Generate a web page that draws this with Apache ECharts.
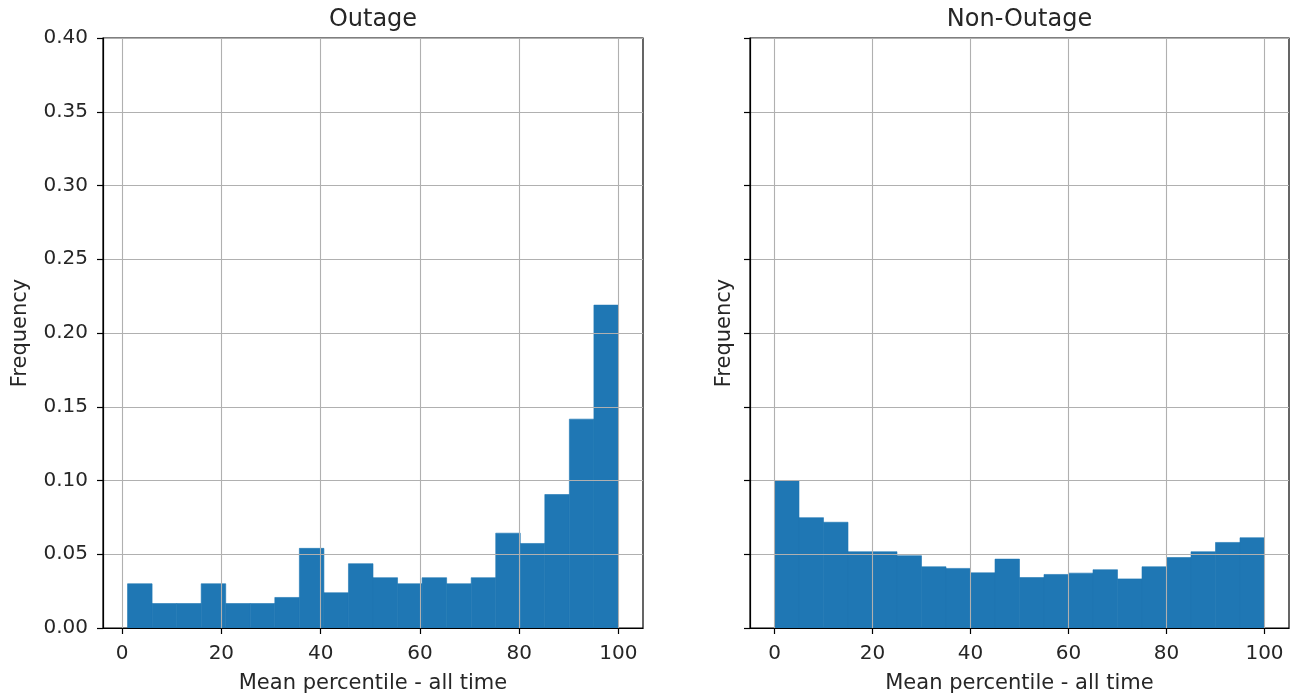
<!DOCTYPE html>
<html>
<head>
<meta charset="utf-8">
<script src="https://cdn.jsdelivr.net/npm/echarts@6/dist/echarts.min.js"></script>
<style>
html,body{margin:0;padding:0;background:#fff;}
#chart{width:1290px;height:695px;}
</style>
</head>
<body>
<div id="chart"></div>
<script>
// Outage histogram (relative frequency per bin)
const outageEdges = [1.1, 6.045, 10.99, 15.935, 20.88, 25.825, 30.77, 35.715, 40.66, 45.605, 50.55, 55.495, 60.44, 65.385, 70.33, 75.275, 80.22, 85.165, 90.11, 95.055, 100];
const outageFreq = [0.030, 0.0166, 0.0166, 0.030, 0.0166, 0.0166, 0.0207, 0.054, 0.0239, 0.0436, 0.0341, 0.030, 0.0341, 0.030, 0.0341, 0.0643, 0.0573, 0.0905, 0.1416, 0.2189];

// Non-outage histogram
const nonOutageEdges = [0, 5, 10, 15, 20, 25, 30, 35, 40, 45, 50, 55, 60, 65, 70, 75, 80, 85, 90, 95, 100];
const nonOutageFreq = [0.100, 0.0748, 0.0717, 0.0517, 0.0517, 0.049, 0.0415, 0.0404, 0.0374, 0.0467, 0.0342, 0.0363, 0.0372, 0.0395, 0.0333, 0.0415, 0.0478, 0.0517, 0.058, 0.0612];

const xTicks = [0, 20, 40, 60, 80, 100];
const titles = ['Outage', 'Non-Outage'];
const xLabel = 'Mean percentile - all time';
const yLabel = 'Frequency';

function toBins(edges, freq) {
  return freq.map((f, i) => [edges[i], edges[i + 1], f]);
}

const FONT = 'DejaVu Sans';
const TXT = '#262626';

function renderBar(params, api) {
  const p0 = api.coord([api.value(0), api.value(2)]);
  const p1 = api.coord([api.value(1), 0]);
  return {
    type: 'rect',
    shape: { x: p0[0], y: p0[1], width: p1[0] - p0[0], height: p1[1] - p0[1] },
    style: { fill: '#1f77b4', stroke: '#1f77b4', lineWidth: 0.6 }
  };
}

function xAxisCfg(idx, min, max) {
  return {
    type: 'value', gridIndex: idx, min: min, max: max, z: 5,
    name: xLabel, nameLocation: 'middle', nameGap: 45,
    nameTextStyle: { fontFamily: FONT, fontSize: 21, color: TXT },
    axisLine: { show: true, onZero: false, lineStyle: { color: '#000', width: 1.2 } },
    axisTick: { show: true, length: 6, customValues: xTicks, lineStyle: { color: '#000', width: 1.2 } },
    axisLabel: { customValues: xTicks, margin: 16, fontFamily: FONT, fontSize: 20, color: TXT },
    splitLine: { show: true, lineStyle: { color: '#b0b0b0', width: 1.1 } }
  };
}

function yAxisCfg(idx, showLabels, nameGap) {
  return {
    type: 'value', gridIndex: idx, min: 0, max: 0.4, interval: 0.05, z: 5,
    name: yLabel, nameLocation: 'middle', nameGap: nameGap,
    nameTextStyle: { fontFamily: FONT, fontSize: 21, color: TXT },
    axisLine: { show: true, onZero: false, lineStyle: { color: '#000', width: 1.2 } },
    axisTick: { show: true, length: 6, lineStyle: { color: '#000', width: 1.2 } },
    axisLabel: { show: showLabels, margin: 15, fontFamily: FONT, fontSize: 20, color: TXT,
      formatter: v => v.toFixed(2) },
    splitLine: { show: true, lineStyle: { color: '#b0b0b0', width: 1.1 } }
  };
}

const chart = echarts.init(document.getElementById('chart'), null, { renderer: 'canvas' });
const g0 = { left: 103, top: 38, width: 540, height: 590 };
const g1 = { left: 750, top: 38, width: 539, height: 590 };
const outMin = outageEdges[0], outMax = outageEdges[outageEdges.length - 1];
const outPad = (outMax - outMin) * 0.05;
const nonMin = nonOutageEdges[0], nonMax = nonOutageEdges[nonOutageEdges.length - 1];
const nonPad = (nonMax - nonMin) * 0.05;

const gridBase = { show: true, borderColor: '#000', borderWidth: 1.2, backgroundColor: 'transparent',
  containLabel: false, outerBoundsMode: 'none' };

chart.setOption({
  animation: false,
  backgroundColor: '#fff',
  grid: [
    Object.assign({}, gridBase, g0),
    Object.assign({}, gridBase, g1)
  ],
  graphic: [
    { type: 'text', x: g0.left + g0.width / 2, y: 8, z: 10,
      style: { text: titles[0], fontFamily: FONT, fontSize: 24, fill: TXT, textAlign: 'center', textVerticalAlign: 'top' } },
    { type: 'text', x: g1.left + g1.width / 2, y: 8, z: 10,
      style: { text: titles[1], fontFamily: FONT, fontSize: 24, fill: TXT, textAlign: 'center', textVerticalAlign: 'top' } }
  ],
  xAxis: [
    xAxisCfg(0, outMin - outPad, outMax + outPad),
    xAxisCfg(1, nonMin - nonPad, nonMax + nonPad)
  ],
  yAxis: [
    yAxisCfg(0, true, 72),
    yAxisCfg(1, false, 15)
  ],
  series: [
    { type: 'custom', xAxisIndex: 0, yAxisIndex: 0, z: 2, renderItem: renderBar,
      encode: { x: [0, 1], y: 2 }, data: toBins(outageEdges, outageFreq) },
    { type: 'custom', xAxisIndex: 1, yAxisIndex: 1, z: 2, renderItem: renderBar,
      encode: { x: [0, 1], y: 2 }, data: toBins(nonOutageEdges, nonOutageFreq) }
  ]
});
</script>
</body>
</html>
